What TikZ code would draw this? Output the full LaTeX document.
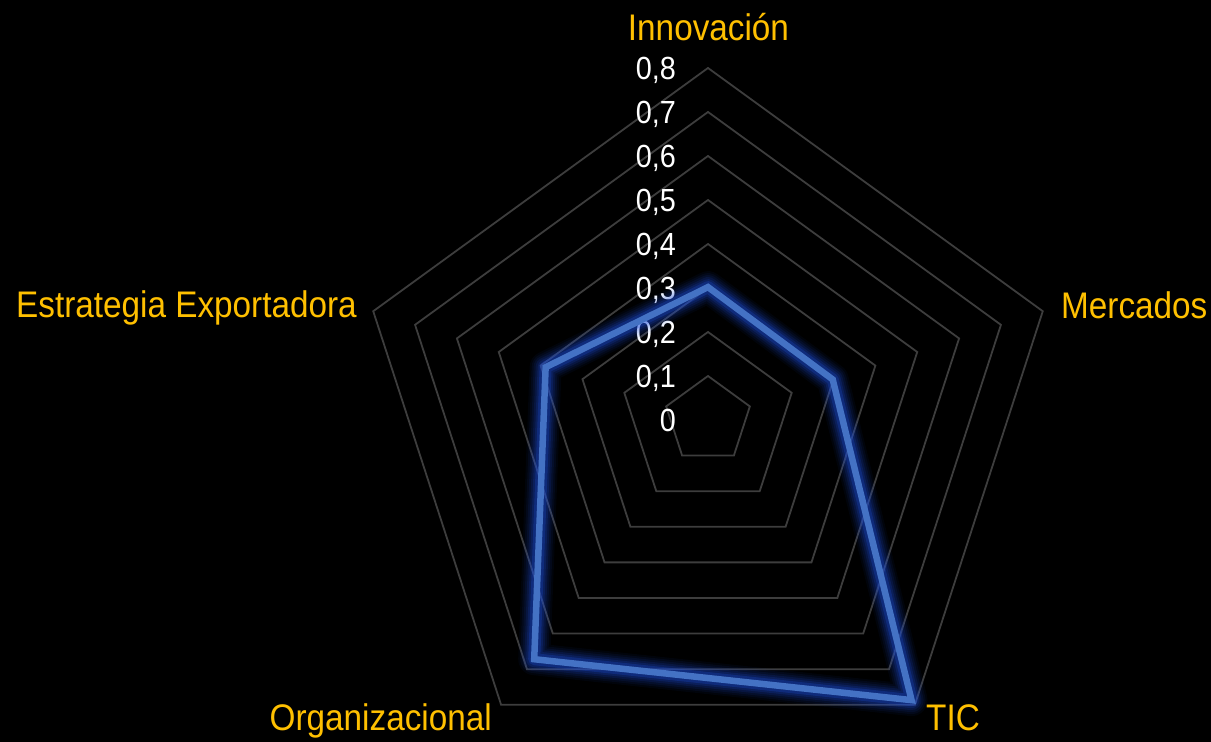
\documentclass[tikz,border=0pt]{standalone}
\usepackage{fontspec}
\setmainfont[FakeStretch=0.9]{Liberation Sans}
\usetikzlibrary{calc}
\begin{document}
\begin{tikzpicture}[x=1pt,y=1pt,
  ring/.style={draw=ringgray,line width=1.8pt,line join=miter},
  axlabel/.style={text=labelorange,inner sep=0pt,font=\fontsize{37}{40}\selectfont},
  ticklabel/.style={text=white,inner sep=0pt,anchor=base east,font=\fontsize{32}{36}\selectfont},
  dataline/.style={draw=datablue,line width=6.5pt,line join=miter},
  glow/.style={draw=glowblue,line join=round,line cap=round}]
\definecolor{ringgray}{HTML}{3D3D3D}
\definecolor{labelorange}{HTML}{FFC000}
\definecolor{datablue}{HTML}{4472C4}
\definecolor{glowblue}{HTML}{1E50E0}
\fill[black] (0,0) rectangle (1211,742);
\useasboundingbox (0,0) rectangle (1211,742);
\coordinate (c) at (708,322);
% rings
\foreach \k in {1,...,8}{
  \draw[ring] ($(c)+(90:\k*44)$) -- ($(c)+(18:\k*44)$) -- ($(c)+(-54:\k*44)$) -- ($(c)+(-126:\k*44)$) -- ($(c)+(162:\k*44)$) -- cycle;
}
% tick labels
\foreach \v/\t in {0/0,1/{0,1},2/{0,2},3/{0,3},4/{0,4},5/{0,5},6/{0,6},7/{0,7},8/{0,8}}{
  \node[ticklabel] (tick\v) at (676,{742-432+\v*44}) {\t};
}
% data points
\coordinate (pI) at ($(c)+(90:0.302*440)$);
\coordinate (pM) at ($(c)+(18:0.298*440)$);
\coordinate (pT) at ($(c)+(-54:0.787*440)$);
\coordinate (pO) at ($(c)+(-126:0.672*440)$);
\coordinate (pE) at ($(c)+(162:0.388*440)$);
% glow
\foreach \w/\o in {32/0.05,28/0.07,24/0.09,20/0.12,16/0.16,12/0.25}{
  \draw[glow,line width=\w pt,opacity=\o] (pI) -- (pM) -- (pT) -- (pO) -- (pE) -- cycle;
}
\draw[dataline] (pI) -- (pM) -- (pT) -- (pO) -- (pE) -- cycle;
% axis labels
\node[axlabel,anchor=base] (lInn) at (708.5,{742-41}) {Innovación};
\node[axlabel,anchor=base west] (lMer) at (1061,{742-319}) {Mercados};
\node[axlabel,anchor=base west] (lTIC) at (926,{742-731}) {TIC};
\node[axlabel,anchor=base east] (lOrg) at (492,{742-731}) {Organizacional};
\node[axlabel,anchor=base east] (lEst) at (357,{742-318}) {Estrategia Exportadora};
\end{tikzpicture}
\end{document}
